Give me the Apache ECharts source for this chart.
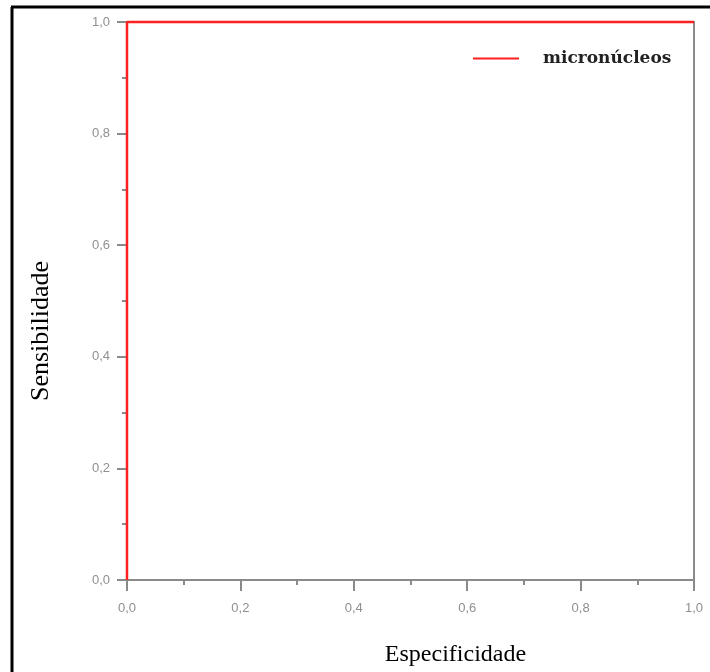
<!DOCTYPE html>
<html>
<head>
<meta charset="utf-8">
<script src="https://cdn.jsdelivr.net/npm/echarts@6/dist/echarts.min.js"></script>
<style>
html,body{margin:0;padding:0;background:#fff;}
#chart{width:710px;height:672px;}
</style>
</head>
<body>
<div id="chart"></div>
<script>
var seriesName = 'micronúcleos';
var especificidade = [0.0, 0.0, 1.0];
var sensibilidade = [0.0, 1.0, 1.0];
var tickValues = [0, 0.2, 0.4, 0.6, 0.8, 1.0];
var xTitle = 'Especificidade';
var yTitle = 'Sensibilidade';
var caption = 'Figura 4 – Curva ROC das amostras com positivo e com negativo para câncer oral';

function fmt(v){ return v.toFixed(1).replace('.', ','); }

var chart = echarts.init(document.getElementById('chart'), null, {renderer:'canvas'});
var axisGray = '#8a8a8a';
var labelStyle = {color:'#8f8f8f', fontFamily:'Liberation Sans', fontSize:13, formatter:fmt};

chart.setOption({
  animation:false,
  backgroundColor:'#fff',
  grid:{left:127, right:16, top:22, bottom:92},
  legend:{
    left:468, top:45, itemWidth:46, itemHeight:14, itemGap:10,
    textStyle:{fontFamily:'DejaVu Serif', fontSize:17, fontWeight:'bold', color:'#222', padding:[0,0,0,19]},
    data:[{name:seriesName, icon:'path://M0,0 L46,0 L46,2 L0,2 Z', itemStyle:{color:'#ff2020'}}]
  },
  xAxis:[{
    type:'value', min:0, max:1, interval:0.2, position:'bottom',
    name:xTitle, nameLocation:'middle', nameGap:63,
    nameTextStyle:{fontFamily:'Liberation Serif', fontSize:24, color:'#000', padding:[0,0,0,90]},
    axisLine:{show:true, onZero:false, lineStyle:{color:axisGray, width:2}},
    axisTick:{show:true, length:11, lineStyle:{color:axisGray, width:2}},
    minorTick:{show:true, splitNumber:2, length:5, lineStyle:{color:axisGray, width:2}},
    axisLabel:Object.assign({margin:22}, labelStyle),
    splitLine:{show:false}
  },{
    type:'value', min:0, max:1, position:'top',
    axisLine:{show:true, onZero:false, lineStyle:{color:axisGray, width:2}},
    axisTick:{show:false}, axisLabel:{show:false}, splitLine:{show:false}
  }],
  yAxis:[{
    type:'value', min:0, max:1, interval:0.2, position:'left',
    name:yTitle, nameLocation:'middle', nameGap:73,
    nameTextStyle:{fontFamily:'Liberation Serif', fontSize:26, color:'#000', padding:[0,60,0,0]},
    axisLine:{show:true, onZero:false, lineStyle:{color:axisGray, width:2}},
    axisTick:{show:true, length:10, lineStyle:{color:axisGray, width:2}},
    minorTick:{show:true, splitNumber:2, length:5, lineStyle:{color:axisGray, width:2}},
    axisLabel:Object.assign({margin:17}, labelStyle),
    splitLine:{show:false}
  },{
    type:'value', min:0, max:1, position:'right',
    axisLine:{show:true, onZero:false, lineStyle:{color:axisGray, width:2}},
    axisTick:{show:false}, axisLabel:{show:false}, splitLine:{show:false}
  }],
  series:[{
    name:seriesName, type:'line', symbol:'none', clip:false,
    lineStyle:{color:'#ff2020', width:2.5},
    itemStyle:{color:'#ff2020'},
    data:especificidade.map(function(x,i){return [x, sensibilidade[i]];})
  }],
  graphic:[
    {type:'line', shape:{x1:12, y1:7, x2:12, y2:672}, style:{stroke:'#000', lineWidth:3}},
    {type:'line', shape:{x1:11, y1:7, x2:710, y2:7}, style:{stroke:'#000', lineWidth:3}},
    {type:'text', left:110, top:-17, style:{text:caption, fontFamily:'Liberation Serif', fontSize:17, fill:'#000'}}
  ]
});
</script>
</body>
</html>
